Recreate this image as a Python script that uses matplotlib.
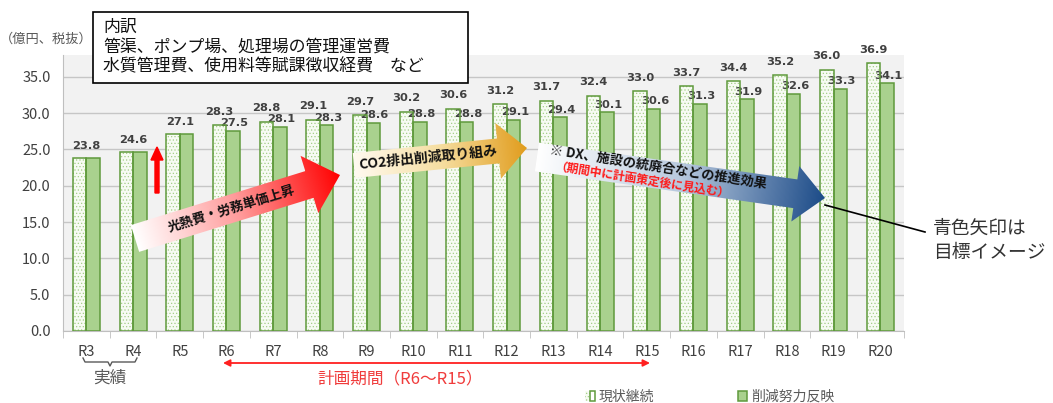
import numpy as np
import matplotlib
matplotlib.use('Agg')
import matplotlib.pyplot as plt
from matplotlib.colors import LinearSegmentedColormap
from matplotlib.patches import Polygon, Rectangle, FancyArrow
from matplotlib.legend_handler import HandlerTuple

plt.rcParams['font.family'] = ['Noto Sans CJK JP', 'DejaVu Sans']
plt.rcParams['hatch.linewidth'] = 0.5

# 維持管理費の推移（億円、税抜）
years = ['R3', 'R4', 'R5', 'R6', 'R7', 'R8', 'R9', 'R10', 'R11',
         'R12', 'R13', 'R14', 'R15', 'R16', 'R17', 'R18', 'R19', 'R20']
current = [23.8, 24.6, 27.1, 28.3, 28.8, 29.1, 29.7, 30.2, 30.6,
           31.2, 31.7, 32.4, 33.0, 33.7, 34.4, 35.2, 36.0, 36.9]
reduced = [23.8, 24.6, 27.1, 27.5, 28.1, 28.3, 28.6, 28.8, 28.8,
           29.1, 29.4, 30.1, 30.6, 31.3, 31.9, 32.6, 33.3, 34.1]
series_names = ['現状継続', '削減努力反映']
yticks = [0, 5, 10, 15, 20, 25, 30, 35]

W, H = 1053, 403
fig = plt.figure(figsize=(W / 100, H / 100), dpi=100)
fig.patch.set_facecolor('white')

ax = fig.add_axes([63 / W, (H - 331) / H, 840.6 / W, 276 / H])
ax.set_facecolor('#f2f2f2')

x = np.arange(len(years))
bw = 0.29
edge = '#5f9a3c'
light_fill = ax.bar(x - bw / 2, current, bw, color='#f7fbf3', edgecolor='#a5cf88',
                    hatch='.....', linewidth=0, zorder=3)
light_edge = ax.bar(x - bw / 2, current, bw, fill=False, edgecolor=edge,
                    linewidth=1.1, zorder=4)
solid = ax.bar(x + bw / 2, reduced, bw, color='#a9d18e', edgecolor=edge,
               linewidth=1.1, zorder=3)

lab = dict(fontsize=8.2, fontweight='bold', color='#404040', ha='center',
           va='bottom', textcoords='offset points', family='DejaVu Sans')
for i, (c, r) in enumerate(zip(current, reduced)):
    if c == r:
        ax.annotate(f'{c:.1f}', (i, c), xytext=(0, 5), **lab)
    else:
        ax.annotate(f'{c:.1f}', (i - bw / 2, c), xytext=(0, 6), **lab)
        ax.annotate(f'{r:.1f}', (i + bw / 2, r), xytext=(1, 2), **lab)

ax.set_xlim(-0.5, len(years) - 0.5)
ax.set_ylim(0, 38)
ax.set_yticks(yticks)
ax.set_yticklabels([f'{v:.1f}' for v in yticks])
ax.set_xticks(x)
ax.set_xticklabels(years)
ax.set_xticks(np.arange(-0.5, len(years)), minor=True)
ax.tick_params(axis='x', which='major', length=0, pad=10, labelsize=10.5, labelcolor='#404040')
ax.tick_params(axis='x', which='minor', length=5, color='#bfbfbf', direction='out')
ax.tick_params(axis='y', length=0, pad=9, labelsize=10.5, labelcolor='#404040')
ax.grid(axis='y', color='#c6c6c6', linewidth=1, zorder=0)
ax.set_axisbelow(True)
for s in ['top', 'right']:
    ax.spines[s].set_visible(False)
for s in ['left', 'bottom']:
    ax.spines[s].set_color('#bfbfbf')

# 注記用のオーバーレイ（ピクセル座標）
ov = fig.add_axes([0, 0, 1, 1])
ov.set_xlim(0, W)
ov.set_ylim(H, 0)
ov.axis('off')


def grad_arrow(tail, tip, shaft, head_w, head_len, colors):
    tail, tip = np.array(tail, float), np.array(tip, float)
    d = tip - tail
    L = np.hypot(*d)
    u = d / L
    n = np.array([-u[1], u[0]])
    base = tip - u * head_len
    pts = [tail + n * shaft / 2, base + n * shaft / 2, base + n * head_w / 2, tip,
           base - n * head_w / 2, base - n * shaft / 2, tail - n * shaft / 2]
    poly = Polygon(pts, closed=True, facecolor='none', edgecolor='none')
    ov.add_patch(poly)
    pts = np.array(pts)
    x0, y0 = pts.min(axis=0) - 1
    x1, y1 = pts.max(axis=0) + 1
    X, Y = np.meshgrid(np.linspace(x0, x1, 300), np.linspace(y0, y1, 150))
    t = ((X - tail[0]) * u[0] + (Y - tail[1]) * u[1]) / L
    cmap = LinearSegmentedColormap.from_list('g', colors)
    im = ov.imshow(np.clip(t, 0, 1), cmap=cmap, vmin=0, vmax=1, origin='lower',
                   extent=(x0, x1, y0, y1), aspect='auto', interpolation='bilinear',
                   zorder=5)
    im.set_clip_path(poly)


grad_arrow((135, 238.5), (340, 175), 28, 60, 32, ['#ffffff', '#ff9a9a', '#ff0000'])
grad_arrow((354, 165.5), (527, 148), 25, 56, 29, ['#fffaf0', '#f6dea0', '#e19c1c'])
grad_arrow((537, 157), (825, 198), 29, 56, 30, ['#ffffff', '#b8c9de', '#1c4b88'])

ov.text(231, 209, '光熱費・労務単価上昇', rotation=17, ha='center', va='center',
        fontsize=9.5, fontweight='bold', color='#111111', zorder=6)
ov.text(428, 157.5, 'CO2排出削減取り組み', rotation=5.8, ha='center', va='center',
        fontsize=10, fontweight='bold', color='#111111', zorder=6)
ov.text(658, 167, '※ DX、施設の統廃合などの推進効果', rotation=-9, ha='center', va='center',
        fontsize=9.5, fontweight='bold', color='#111111', zorder=6)
ov.text(642, 181, '（期間中に計画策定後に見込む）', rotation=-9, ha='center', va='center',
        fontsize=8.5, fontweight='bold', color='#ff1a1a', zorder=6)

# R4→R5 の上昇
ov.add_patch(FancyArrow(157, 193, 0, -46, width=4, head_width=12, head_length=13,
                        length_includes_head=True, color='#ff0000', zorder=6))

# 内訳の枠
ov.add_patch(Rectangle((93, 12), 375, 71, facecolor='white', edgecolor='black',
                       linewidth=1.2, zorder=6))
ov.text(103, 47, '内訳\n管渠、ポンプ場、処理場の管理運営費\n水質管理費、使用料等賦課徴収経費　など',
        ha='left', va='center', fontsize=12.2, linespacing=1.13, color='#111111', zorder=7)

ov.text(0, 39, '（億円、税抜）', ha='left', va='center', fontsize=9.5, color='#595959')

# 青色矢印の説明
ov.plot([825, 925], [205, 232], color='black', linewidth=1.2, zorder=6)
ov.text(933, 240, '青色矢印は\n目標イメージ', ha='left', va='center', fontsize=13.5,
        linespacing=1.2, color='#333333')

# 実績のかっこ
ov.plot([83, 85, 108, 110, 112, 135, 137], [358, 362, 362, 366, 362, 362, 358],
        color='#595959', linewidth=1)
ov.text(110, 378, '実績', ha='center', va='center', fontsize=12, color='#595959')

# 計画期間
ov.annotate('', xy=(223, 363), xytext=(650, 363),
            arrowprops=dict(arrowstyle='<|-|>', color='#ff2020', lw=1.3,
                            mutation_scale=10, shrinkA=0, shrinkB=0))
ov.text(400, 379, '計画期間（R6～R15）', ha='center', va='center', fontsize=12,
        color='#f03c3c')

fig.legend([(light_fill, light_edge), solid], series_names,
           handler_map={tuple: HandlerTuple(ndivide=None, pad=0)},
           loc='center left', bbox_to_anchor=(585 / W, 1 - 397 / H), ncol=2,
           frameon=False, fontsize=10, handlelength=0.7, handleheight=0.7,
           handletextpad=0.3, columnspacing=6.0, borderpad=0, borderaxespad=0,
           labelcolor='#595959')

fig.savefig('out.png', dpi=100)
